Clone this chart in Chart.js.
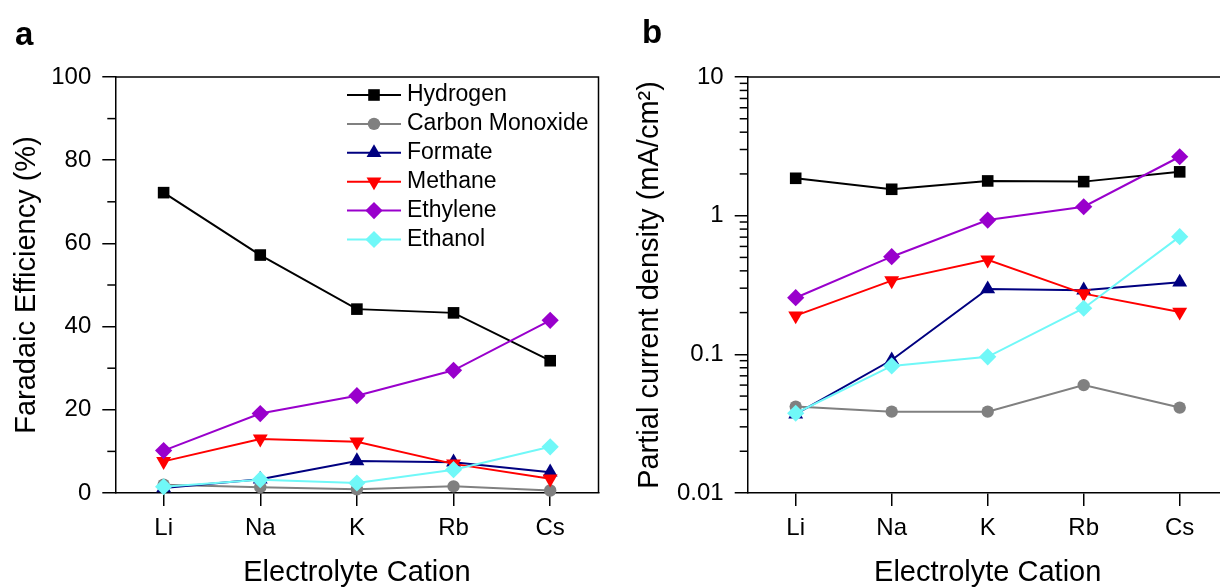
<!DOCTYPE html>
<html>
<head>
<meta charset="utf-8">
<script src="https://cdn.jsdelivr.net/npm/chart.js@4.4.1/dist/chart.umd.min.js"></script>
<style>
  html, body { margin:0; padding:0; background:#fff; overflow:hidden; }
  #wrap { position:relative; width:1220px; height:587px; overflow:hidden; background:#fff; }
  canvas { position:absolute; top:0; }
  #fe { left:0; }
  #pcd { left:620px; }
</style>
</head>
<body>
<div id="wrap">
  <canvas id="fe" width="620" height="587"></canvas>
  <canvas id="pcd" width="620" height="587"></canvas>
</div>
<script>
const cations = ["Li", "Na", "K", "Rb", "Cs"];
const products = ["Hydrogen", "Carbon Monoxide", "Formate", "Methane", "Ethylene", "Ethanol"];

// panel a: Faradaic efficiency (%)
const feHydrogen = [72.2, 57.2, 44.2, 43.3, 31.8];
const feCO       = [2.0, 1.4, 0.9, 1.6, 0.6];
const feFormate  = [1.2, 3.3, 7.7, 7.4, 5.0];
const feMethane  = [7.6, 13.0, 12.3, 7.0, 3.4];
const feEthylene = [10.2, 19.1, 23.4, 29.5, 41.5];
const feEthanol  = [1.5, 3.2, 2.4, 5.6, 11.1];

// panel b: partial current density (mA/cm2)
const pcdHydrogen = [1.86, 1.55, 1.78, 1.76, 2.07];
const pcdCO       = [0.042, 0.0386, 0.0386, 0.060, 0.0413];
const pcdFormate  = [0.037, 0.091, 0.296, 0.29, 0.331];
const pcdMethane  = [0.19, 0.34, 0.48, 0.274, 0.202];
const pcdEthylene = [0.256, 0.506, 0.93, 1.16, 2.66];
const pcdEthanol  = [0.0376, 0.0825, 0.096, 0.215, 0.706];

const feTicks = [0, 20, 40, 60, 80, 100];
const feTickLabels = ["0", "20", "40", "60", "80", "100"];
const feMinor = [10, 30, 50, 70, 90];

const pcdTicks = [0.01, 0.1, 1, 10];
const pcdTickLabels = ["0.01", "0.1", "1", "10"];
const pcdMinor = [0.02, 0.03, 0.04, 0.05, 0.06, 0.07, 0.08, 0.09,
                  0.2, 0.3, 0.4, 0.5, 0.6, 0.7, 0.8, 0.9,
                  2, 3, 4, 5, 6, 7, 8, 9];

const colors = ["#000000", "#808080", "#000080", "#ff0000", "#9900cc", "#70f8f8"];
const shapes = ["rect", "circle", "triangle", "triangle", "rectRot", "rectRot"];
const rotations = [0, 0, 0, 180, 0, 0];
const sizes = [8.2, 6.2, 8.6, 8.6, 8.6, 8.6];

const FONT = "'Liberation Sans', Arial, sans-serif";
Chart.defaults.font.family = FONT;
Chart.defaults.color = "#000";

function makeSets(rows){
  return products.map((name, i) => ({
    label: name,
    data: rows[i],
    borderColor: colors[i],
    backgroundColor: colors[i],
    pointStyle: shapes[i],
    pointRotation: rotations[i],
    pointRadius: sizes[i],
    pointHoverRadius: sizes[i],
    pointBorderWidth: 0,
    borderWidth: 2,
    tension: 0,
    clip: false,
    order: products.length - i
  }));
}

// box top/right edges
const frame = {
  id: "frame",
  afterDraw(chart){
    const {ctx, chartArea: a} = chart;
    ctx.save();
    ctx.strokeStyle = "#000";
    ctx.lineWidth = 1.5;
    ctx.beginPath();
    ctx.moveTo(a.left, a.top);
    ctx.lineTo(a.right, a.top);
    ctx.lineTo(a.right, a.bottom);
    ctx.stroke();
    ctx.restore();
  }
};

// short ticks between labelled ones
const minorTicks = {
  id: "minorTicks",
  afterDraw(chart, args, o){
    const {ctx, chartArea: a} = chart;
    const y = chart.scales.y;
    ctx.save();
    ctx.strokeStyle = "#000";
    ctx.lineWidth = 1.5;
    o.values.forEach(v => {
      const py = y.getPixelForValue(v);
      ctx.beginPath();
      ctx.moveTo(a.left - o.length, py);
      ctx.lineTo(a.left, py);
      ctx.stroke();
    });
    ctx.restore();
  }
};

const legendBox = {
  id: "legendBox",
  afterDraw(chart, args, o){
    if(!o.show) return;
    const ctx = chart.ctx;
    ctx.save();
    chart.data.datasets.forEach((ds, i) => {
      const y = o.top + i * o.step;
      ctx.strokeStyle = ds.borderColor;
      ctx.lineWidth = 2;
      ctx.beginPath();
      ctx.moveTo(o.x0, y);
      ctx.lineTo(o.x1, y);
      ctx.stroke();
      ctx.fillStyle = ds.backgroundColor;
      Chart.helpers.drawPoint(ctx, {pointStyle: ds.pointStyle, rotation: ds.pointRotation,
        radius: ds.pointRadius, borderWidth: 0}, (o.x0 + o.x1) / 2, y);
      ctx.fillStyle = "#000";
      ctx.font = "23px " + FONT;
      ctx.textBaseline = "middle";
      ctx.textAlign = "left";
      ctx.fillText(ds.label, o.textX, y);
    });
    ctx.restore();
  }
};

const panelLabel = {
  id: "panelLabel",
  afterDraw(chart, args, o){
    const ctx = chart.ctx;
    ctx.save();
    ctx.fillStyle = "#000";
    ctx.font = "bold 33px " + FONT;
    ctx.textBaseline = "alphabetic";
    ctx.fillText(o.text, o.x, o.y);
    ctx.restore();
  }
};

function makeChart(id, cfg){
  return new Chart(document.getElementById(id), {
    type: "line",
    data: {labels: cations, datasets: makeSets(cfg.rows)},
    plugins: [frame, minorTicks, legendBox, panelLabel],
    options: {
      responsive: false,
      animation: false,
      events: [],
      layout: {padding: {left: 0, top: 77, right: cfg.padRight, bottom: 0}},
      plugins: {
        legend: {display: false},
        tooltip: {enabled: false},
        minorTicks: {values: cfg.minor, length: 8},
        legendBox: cfg.legend,
        panelLabel: cfg.label
      },
      scales: {
        x: {
          type: "category",
          offset: true,
          afterFit: s => { s.height = 94; },
          grid: {display: true, drawOnChartArea: false, tickLength: 13, color: "#000", lineWidth: 1.5, offset: false},
          border: {color: "#000", width: 1.5},
          ticks: {font: {size: 24}, color: "#000", padding: 8, maxRotation: 0},
          title: {display: true, text: "Electrolyte Cation", font: {size: 29, lineHeight: 0.94}, color: "#000", padding: {top: 0, bottom: 0}}
        },
        y: {
          type: cfg.yType,
          min: cfg.yMin,
          max: cfg.yMax,
          afterFit: s => { s.width = cfg.axisLeft; },
          afterBuildTicks: s => { s.ticks = cfg.ticks.map(v => ({value: v, major: true})); },
          grid: {display: true, drawOnChartArea: false, tickLength: 13, color: "#000", lineWidth: 1.5},
          border: {color: "#000", width: 1.5},
          ticks: {font: {size: 24}, color: "#000", padding: 11,
                  callback: (v, i) => cfg.tickLabels[i]},
          title: {display: true, text: cfg.yTitle, font: {size: 29, lineHeight: 0.94}, color: "#000",
                  padding: {top: cfg.titlePad, bottom: 0}}
        }
      }
    }
  });
}

makeChart("fe", {
  rows: [feHydrogen, feCO, feFormate, feMethane, feEthylene, feEthanol],
  yType: "linear", yMin: 0, yMax: 100,
  ticks: feTicks, tickLabels: feTickLabels, minor: feMinor,
  axisLeft: 115.3, padRight: 21.5, titlePad: 13,
  yTitle: "Faradaic Efficiency (%)",
  legend: {show: true, x0: 347, x1: 401, textX: 407, top: 95, step: 28.9},
  label: {text: "a", x: 15, y: 45}
});

makeChart("pcd", {
  rows: [pcdHydrogen, pcdCO, pcdFormate, pcdMethane, pcdEthylene, pcdEthanol],
  yType: "logarithmic", yMin: 0.01, yMax: 10,
  ticks: pcdTicks, tickLabels: pcdTickLabels, minor: pcdMinor,
  axisLeft: 127.7, padRight: 12.3, titlePad: 16,
  yTitle: "Partial current density (mA/cm²)",
  legend: {show: false},
  label: {text: "b", x: 22, y: 43}
});
</script>
</body>
</html>
